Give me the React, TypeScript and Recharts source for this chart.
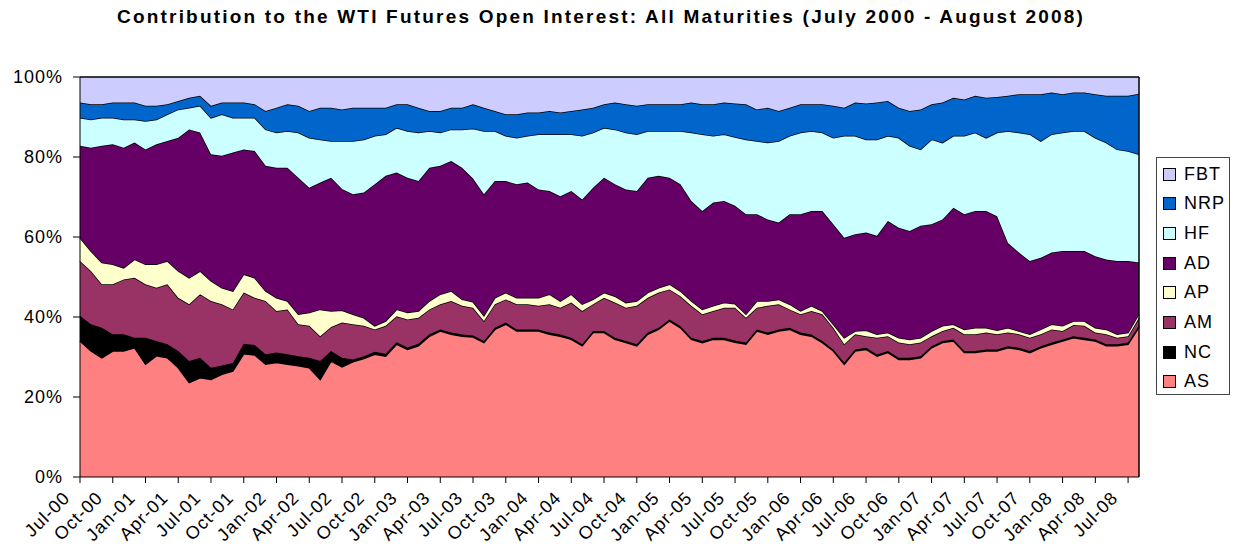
import { AreaChart, Area, XAxis, YAxis, ReferenceLine } from 'recharts';

const FONT = '"Liberation Sans", Arial, sans-serif';

// month categories, Jul-00 .. Aug-08
const MONTH_NAMES = ['Jan', 'Feb', 'Mar', 'Apr', 'May', 'Jun', 'Jul', 'Aug', 'Sep', 'Oct', 'Nov', 'Dec'];
const months: string[] = [];
for (let i = 0; i < 98; i++) {
  const m = 6 + i;
  months.push(`${MONTH_NAMES[m % 12]}-${String((2000 + Math.floor(m / 12)) % 100).padStart(2, '0')}`);
}

const yTicks = [0, 0.2, 0.4, 0.6, 0.8, 1];

// share of open interest, % (one point per month)
const AS = [34.0, 31.5, 29.8, 31.5, 31.5, 32.3, 28.2, 30.3, 29.8, 27.3, 23.6, 24.8, 24.4, 25.7, 26.5, 30.8, 30.5, 28.2, 28.6, 28.2, 27.8, 27.3, 24.4, 29.0, 27.5, 28.8, 29.6, 30.7, 30.2, 33.2, 31.9, 32.8, 35.2, 36.5, 35.7, 35.2, 35.0, 33.6, 36.9, 38.2, 36.5, 36.5, 36.5, 35.7, 35.2, 34.4, 32.8, 36.1, 36.1, 34.4, 33.6, 32.8, 35.7, 36.9, 39.0, 37.3, 34.4, 33.6, 34.4, 34.4, 33.7, 33.2, 36.5, 35.7, 36.5, 36.9, 35.7, 35.2, 33.6, 31.5, 28.2, 31.5, 31.9, 30.2, 31.1, 29.4, 29.4, 29.8, 32.3, 33.6, 34.0, 31.1, 31.1, 31.5, 31.5, 32.3, 31.9, 31.1, 32.3, 33.2, 34.0, 34.8, 34.4, 34.0, 32.8, 32.8, 33.2, 37.5];
const NC = [6.3, 6.7, 7.5, 4.2, 4.2, 2.5, 6.6, 3.7, 3.4, 4.2, 5.4, 5.0, 2.9, 2.2, 2.0, 2.5, 2.5, 2.5, 2.5, 2.5, 2.4, 2.5, 4.6, 2.5, 2.3, 0.6, 0.6, 0.6, 0.6, 0.5, 0.5, 0.5, 0.5, 0.4, 0.4, 0.4, 0.4, 0.4, 0.4, 0.4, 0.4, 0.4, 0.4, 0.4, 0.4, 0.4, 0.4, 0.4, 0.4, 0.4, 0.4, 0.4, 0.4, 0.4, 0.4, 0.4, 0.4, 0.4, 0.4, 0.4, 0.4, 0.4, 0.4, 0.4, 0.4, 0.4, 0.4, 0.4, 0.4, 0.4, 0.4, 0.4, 0.4, 0.4, 0.4, 0.4, 0.4, 0.4, 0.4, 0.4, 0.4, 0.4, 0.4, 0.4, 0.4, 0.4, 0.4, 0.4, 0.4, 0.4, 0.4, 0.4, 0.4, 0.4, 0.4, 0.4, 0.4, 0.4];
const AM = [13.7, 13.3, 10.9, 12.5, 13.7, 15.0, 13.4, 13.3, 15.0, 13.3, 14.2, 15.9, 16.7, 15.3, 13.4, 12.8, 11.8, 13.3, 10.4, 11.2, 8.0, 8.0, 6.2, 6.0, 8.8, 8.8, 7.6, 5.6, 7.0, 6.5, 7.0, 6.5, 6.2, 6.3, 7.9, 7.2, 6.9, 5.0, 5.9, 5.8, 6.3, 6.3, 5.9, 7.1, 6.7, 8.8, 8.3, 6.7, 8.3, 8.8, 8.3, 9.6, 8.7, 8.8, 7.5, 7.5, 8.0, 6.7, 6.7, 7.5, 8.2, 6.2, 5.4, 6.7, 6.3, 4.6, 4.6, 5.9, 6.7, 5.4, 4.6, 3.8, 2.9, 4.2, 3.7, 3.8, 3.4, 3.4, 2.5, 2.5, 2.9, 4.2, 4.2, 4.2, 3.8, 3.4, 3.4, 3.3, 3.0, 3.3, 2.1, 2.8, 3.0, 1.7, 2.5, 1.6, 1.6, 1.9];
const AP = [5.8, 5.0, 5.4, 5.0, 2.9, 4.6, 5.0, 5.9, 5.8, 6.7, 6.6, 5.8, 5.0, 4.1, 4.6, 4.6, 5.0, 2.5, 3.3, 2.1, 2.5, 3.3, 6.7, 4.0, 3.1, 2.5, 2.0, 0.9, 1.2, 1.7, 1.7, 1.7, 2.1, 2.5, 2.5, 1.6, 1.5, 1.3, 1.6, 1.7, 1.6, 1.6, 2.0, 2.5, 1.7, 2.1, 1.7, 1.2, 1.3, 1.6, 1.3, 1.2, 1.3, 1.2, 1.3, 1.3, 1.2, 1.2, 1.3, 1.3, 1.0, 0.9, 1.7, 1.2, 1.2, 1.3, 0.8, 1.3, 0.8, 0.9, 1.6, 0.8, 1.5, 0.9, 0.9, 1.2, 1.2, 1.2, 1.3, 1.3, 0.9, 1.2, 1.6, 1.2, 1.0, 1.2, 0.8, 0.9, 1.2, 1.3, 1.3, 1.0, 1.2, 1.2, 1.2, 0.9, 0.9, 1.0];
const AD = [23.0, 25.8, 29.2, 30.0, 30.0, 29.2, 28.7, 30.0, 30.0, 33.3, 37.1, 34.6, 31.7, 33.0, 34.6, 31.2, 31.7, 31.3, 32.5, 33.3, 34.1, 31.2, 31.7, 33.3, 30.3, 30.0, 31.3, 35.4, 36.3, 34.2, 33.7, 32.5, 33.3, 32.1, 32.5, 32.9, 30.8, 30.4, 29.2, 27.9, 28.4, 28.8, 27.1, 25.8, 26.2, 25.8, 26.2, 27.9, 28.7, 28.0, 28.3, 27.5, 28.7, 28.0, 26.6, 26.7, 25.0, 24.6, 25.8, 25.4, 24.5, 25.0, 21.7, 20.4, 19.2, 22.5, 24.2, 23.7, 25.0, 25.0, 25.0, 24.2, 24.4, 24.6, 27.9, 27.5, 27.1, 28.0, 26.7, 26.6, 29.1, 28.8, 29.2, 29.2, 28.5, 21.2, 19.6, 18.3, 17.9, 17.9, 18.7, 17.5, 17.5, 17.9, 17.5, 18.3, 17.9, 12.8];
const HF = [7.0, 7.1, 7.0, 6.6, 7.1, 5.8, 7.1, 6.2, 6.7, 7.1, 5.4, 6.7, 9.1, 10.4, 8.7, 7.9, 8.3, 9.1, 8.8, 9.2, 11.3, 12.5, 10.8, 9.2, 12.0, 13.3, 13.3, 12.1, 10.4, 11.2, 11.7, 12.1, 9.2, 8.3, 7.9, 9.6, 12.5, 15.8, 12.5, 11.3, 11.6, 11.7, 13.8, 14.2, 15.5, 14.2, 15.9, 13.8, 12.5, 13.7, 14.2, 14.2, 11.7, 11.2, 11.7, 13.3, 17.1, 19.2, 16.7, 16.7, 17.2, 18.7, 18.3, 19.2, 20.4, 19.6, 20.4, 20.0, 19.6, 21.6, 25.5, 24.6, 23.3, 24.1, 21.3, 22.5, 21.3, 19.1, 21.2, 19.2, 18.0, 19.6, 19.6, 18.3, 20.9, 28.0, 30.0, 31.7, 29.2, 29.6, 29.6, 30.0, 30.0, 29.6, 29.2, 27.9, 27.5, 27.1];
const NRP = [3.8, 3.8, 3.4, 3.8, 4.2, 4.2, 3.8, 3.4, 2.5, 2.1, 2.5, 2.5, 3.0, 2.9, 3.8, 3.8, 3.4, 4.6, 6.2, 6.7, 6.7, 6.7, 7.9, 8.3, 7.9, 8.3, 7.9, 7.0, 6.6, 5.9, 6.7, 6.2, 5.0, 5.4, 5.4, 5.4, 6.1, 5.8, 5.0, 5.4, 5.9, 5.8, 5.4, 5.8, 5.4, 5.8, 6.6, 6.2, 5.9, 6.7, 7.1, 7.1, 6.7, 6.7, 6.7, 6.7, 7.5, 7.5, 7.9, 7.9, 8.4, 8.8, 7.9, 8.7, 7.5, 7.0, 7.1, 6.7, 7.1, 8.0, 7.0, 8.3, 9.0, 9.2, 8.7, 7.5, 8.7, 10.0, 8.8, 10.0, 9.5, 9.1, 9.2, 10.0, 8.9, 8.8, 9.6, 10.0, 11.7, 10.4, 9.6, 9.6, 9.6, 10.9, 11.7, 13.4, 13.8, 15.1];
const FBT = [6.4, 6.8, 6.8, 6.4, 6.4, 6.4, 7.2, 7.2, 6.8, 6.0, 5.2, 4.7, 7.2, 6.4, 6.4, 6.4, 6.8, 8.5, 7.7, 6.8, 7.2, 8.5, 7.7, 7.7, 8.1, 7.7, 7.7, 7.7, 7.7, 6.8, 6.8, 7.7, 8.5, 8.5, 7.7, 7.7, 6.8, 7.7, 8.5, 9.3, 9.3, 8.9, 8.9, 8.5, 8.9, 8.5, 8.1, 7.7, 6.8, 6.4, 6.8, 7.2, 6.8, 6.8, 6.8, 6.8, 6.4, 6.8, 6.8, 6.4, 6.6, 6.8, 8.1, 7.7, 8.5, 7.7, 6.8, 6.8, 6.8, 7.2, 7.7, 6.4, 6.6, 6.4, 6.0, 7.7, 8.5, 8.1, 6.8, 6.4, 5.2, 5.6, 4.7, 5.2, 5.0, 4.7, 4.3, 4.3, 4.3, 3.9, 4.3, 3.9, 3.9, 4.3, 4.7, 4.7, 4.7, 4.2];

// stacking order, bottom first
const SERIES = [
  { key: 'AS', color: '#FF8080', values: AS },
  { key: 'NC', color: '#000000', values: NC },
  { key: 'AM', color: '#993366', values: AM },
  { key: 'AP', color: '#FFFFCC', values: AP },
  { key: 'AD', color: '#660066', values: AD },
  { key: 'HF', color: '#CCFFFF', values: HF },
  { key: 'NRP', color: '#0066CC', values: NRP },
  { key: 'FBT', color: '#CCCCFF', values: FBT },
];

const data = months.map((month, i) => {
  const row: Record<string, string | number> = { month };
  SERIES.forEach((s) => { row[s.key] = s.values[i]; });
  return row;
});

function MonthTick({ x, y, payload }: any) {
  const px = x - 9;
  const py = y + 14;
  return (
    <text x={px} y={py} transform={`rotate(-45, ${px}, ${py})`} textAnchor="end"
      fontSize={18} fill="#000" fontFamily={FONT} style={{ letterSpacing: 1 }}>
      {payload.value}
    </text>
  );
}

function ChartLegend() {
  const items = [...SERIES].reverse();
  return (
    <div style={{ position: 'absolute', left: 1156, top: 157, width: 72, height: 236, border: '1px solid #444', background: '#fff' }}>
      {items.map((s, i) => (
        <div key={s.key} style={{ position: 'absolute', left: 6, top: 6 + i * 29.7, height: 20, display: 'flex', alignItems: 'center' }}>
          <span style={{ width: 11, height: 11, background: s.color, border: '1px solid #000', display: 'inline-block' }} />
          <span style={{ marginLeft: 8, fontSize: 18, letterSpacing: 1, color: '#000' }}>{s.key}</span>
        </div>
      ))}
    </div>
  );
}

export default function App() {
  return (
    <div style={{ position: 'absolute', left: 0, top: 0, width: 1235, height: 550, background: '#fff', fontFamily: FONT }}>
      <div style={{ position: 'absolute', left: 0, top: 6, width: 1202, textAlign: 'center', fontWeight: 'bold', fontSize: 19, letterSpacing: 2.2 }}>
        Contribution to the WTI Futures Open Interest: All Maturities (July 2000 - August 2008)
      </div>
      <AreaChart width={1235} height={550} data={data} stackOffset="expand"
        margin={{ top: 77, right: 96, bottom: 0, left: 0 }}>
        <XAxis dataKey="month" interval={2} height={73} tickSize={6}
          axisLine={{ stroke: '#000' }} tickLine={{ stroke: '#000' }} tick={<MonthTick />} />
        <YAxis width={80} domain={[0, 1]} ticks={yTicks} tickSize={7} tickMargin={10}
          tickFormatter={(v: number) => `${Math.round(v * 100)}%`}
          axisLine={{ stroke: '#000' }} tickLine={{ stroke: '#000' }}
          tick={{ fill: '#000', fontSize: 18, fontFamily: FONT, style: { letterSpacing: 1 } }} />
        {SERIES.map((s) => (
          <Area key={s.key} dataKey={s.key} stackId="oi" type="linear" fill={s.color} fillOpacity={1}
            stroke="#000" strokeWidth={1.5} dot={false} activeDot={false} isAnimationActive={false} />
        ))}
        <ReferenceLine x={months[months.length - 1]} stroke="#000" strokeWidth={1.5} />
      </AreaChart>
      <ChartLegend />
    </div>
  );
}
